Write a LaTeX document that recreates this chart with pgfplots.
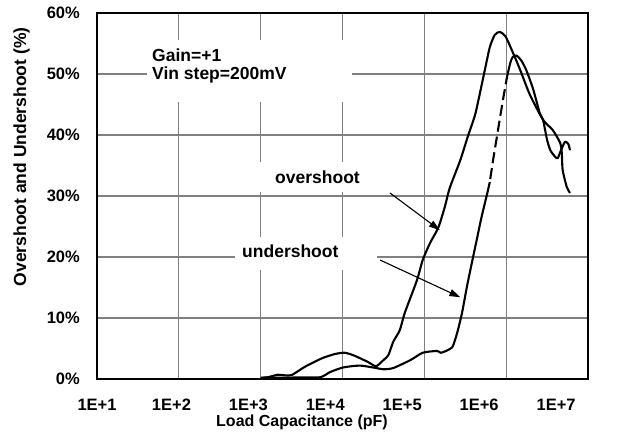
\documentclass[border=0pt]{standalone}
\usepackage{fontspec}
\setmainfont{Liberation Sans}
\usepackage{pgfplots}
\pgfplotsset{compat=1.18}
\usetikzlibrary{arrows.meta}
\newcommand\tickfont{\fontsize{16.5}{19}\selectfont\bfseries}
\newcommand\anfont{\fontsize{17.5}{20}\selectfont\bfseries}
\begin{document}
\begin{tikzpicture}
\path[use as bounding box] (-97pt,-58pt) rectangle (520pt,379pt);
\begin{axis}[
 at={(0,0)}, anchor=south west,
 scale only axis, width=491pt, height=366pt,
 xmin=1, xmax=7, ymin=0, ymax=60,
 xtick={1,2,3,4,5,6,7}, xticklabels={},
 extra x ticks={1,1.91,2.85,3.79,4.73,5.67,6.61},
 extra x tick labels={1E+1,1E+2,1E+3,1E+4,1E+5,1E+6,1E+7},
 extra x tick style={grid=none, major tick length=0pt},
 ytick={0,10,20,30,40,50,60},
 yticklabels={0\%,10\%,20\%,30\%,40\%,50\%,60\%},
 major tick length=0pt,
 grid=major, grid style={line width=1.1pt, black!50},
 axis line style={line width=2.2pt},
 /pgf/number format/assume math mode=true,
 ticklabel style={font=\tickfont},
 xticklabel style={inner sep=0pt, anchor=north, yshift=-20pt},
 yticklabel style={inner sep=0pt, anchor=east, xshift=-17pt},
 xlabel={Load Capacitance (pF)},
 ylabel={Overshoot and Undershoot (\%)},
 xlabel style={font=\fontsize{16}{19}\selectfont\bfseries, at={(axis description cs:0.4175,0)}, anchor=north, yshift=-36pt, inner sep=0pt},
 ylabel style={font=\fontsize{17.5}{20}\selectfont\bfseries, at={(axis description cs:0,0.607)}, anchor=center, yshift=75.5pt, inner sep=0pt},
]
\fill[white] (axis cs:1.611,45.4) rectangle (axis cs:4.116,55.6);
\fill[white] (axis cs:2.931,30.7) rectangle (axis cs:4.092,35.6);
\fill[white] (axis cs:2.686,17.9) rectangle (axis cs:4.422,23.3);
\node[anchor=base west, inner sep=0pt, font=\anfont] at (axis cs:1.672,52.13) {Gain=+1};
\node[anchor=base west, inner sep=0pt, font=\anfont] at (axis cs:1.672,49.02) {Vin step=200mV};
\node[anchor=base west, inner sep=0pt, font=\anfont] at (axis cs:3.175,32.13) {overshoot};
\node[anchor=base west, inner sep=0pt, font=\anfont] at (axis cs:2.772,19.84) {undershoot};
\draw[line width=1.1pt, -{Triangle[length=11pt,width=7pt]}] (axis cs:4.58,30.5) -- (axis cs:5.19,24.4);
\draw[line width=1.1pt, -{Triangle[length=11pt,width=7pt]}] (axis cs:4.46,19.5) -- (axis cs:5.44,13.4);
% overshoot
\addplot[line width=2.1pt, line join=round, smooth, tension=0.4] coordinates {
(3.0,0.2)(3.09,0.3)(3.21,0.7)(3.30,0.6)(3.38,0.65)(3.54,2.0)(3.75,3.4)(3.91,4.1)(4.03,4.3)(4.15,3.8)(4.31,2.8)(4.41,2.1)(4.50,3.1)(4.56,3.9)(4.62,6.1)(4.70,8.0)(4.76,10.8)(4.91,16.2)(4.98,19.5)(5.07,22.3)(5.17,24.8)(5.25,28.2)(5.31,31.3)(5.44,35.9)(5.53,39.7)(5.62,43.3)(5.68,46.9)(5.74,50.7)(5.80,54.4)(5.86,56.4)(5.92,56.9)(5.99,56.2)(6.07,53.9)(6.17,50.7)(6.29,46.6)(6.45,42.5)(6.57,40.8)(6.66,38.7)(6.68,37.0)(6.69,34.3)(6.74,31.5)(6.78,30.5)
};
% undershoot
\addplot[line width=2.1pt, line join=round, smooth, tension=0.4] coordinates {
(3.02,0.2)(3.48,0.25)(3.73,0.3)(3.85,1.15)(4.01,1.9)(4.21,2.2)(4.37,1.9)(4.50,1.6)(4.62,1.8)(4.83,3.1)(4.98,4.3)(5.155,4.6)(5.20,4.3)(5.265,4.6)(5.34,5.2)(5.375,6.4)(5.41,8.0)(5.46,10.8)(5.52,15.1)(5.58,19.0)(5.64,22.8)(5.70,26.6)(5.77,30.5)(5.80,32.3)
};
\addplot[line width=2.1pt, dash pattern=on 11pt off 5pt, dash phase=-3pt] coordinates {
(5.80,32.3)(5.84,35.9)(5.90,40.8)(5.96,45.7)(6.01,49.5)
};
\addplot[line width=2.1pt, line join=round, smooth, tension=0.4] coordinates {
(6.01,49.5)(6.05,51.8)(6.08,52.8)(6.13,53.0)(6.19,52.1)(6.25,50.5)(6.33,47.5)(6.41,43.6)(6.45,42.5)(6.50,39.2)(6.54,37.5)(6.60,36.4)(6.63,36.2)(6.67,37.5)(6.72,38.9)(6.76,38.5)(6.78,37.5)
};
\end{axis}
\end{tikzpicture}
\end{document}
